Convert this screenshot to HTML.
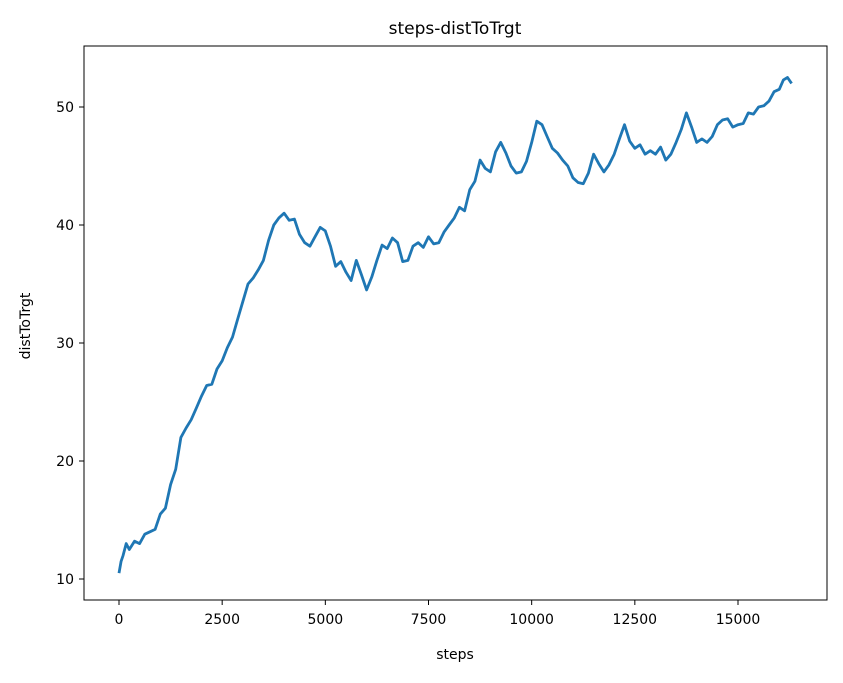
<!DOCTYPE html>
<html><head><meta charset="utf-8"><style>
body{margin:0;background:#fff;font-family:"Liberation Sans","DejaVu Sans",sans-serif;}
svg text{font-family:"DejaVu Sans","Liberation Sans",sans-serif;fill:#000;}
</style></head><body>
<svg id="chart" width="843" height="678">
<text x="455" y="34" font-size="17" text-anchor="middle">steps-distToTrgt</text>
<g id="xticks"></g>
<g id="yticks"></g>
<path id="line" fill="none" stroke="#1f77b4" stroke-width="2.8" stroke-linejoin="round"/>
<rect x="84" y="46" width="743" height="554" fill="none" stroke="#000" stroke-width="1"/>
<text x="455" y="659" font-size="14" text-anchor="middle">steps</text>
<text transform="translate(30,326) rotate(-90)" font-size="14" text-anchor="middle">distToTrgt</text>
</svg>
<script>
const steps=[0,50,100,175,250,375,500,625,750,875,1000,1125,1250,1375,1500,1625,1750,1875,2000,2125,2250,2375,2500,2625,2750,2875,3000,3125,3250,3375,3500,3625,3750,3875,4000,4125,4250,4375,4500,4625,4750,4875,5000,5125,5250,5375,5500,5625,5750,5875,6000,6125,6250,6375,6500,6625,6750,6875,7000,7125,7250,7375,7500,7625,7750,7875,8000,8125,8250,8375,8500,8625,8750,8875,9000,9125,9250,9375,9500,9625,9750,9875,10000,10125,10250,10375,10500,10625,10750,10875,11000,11125,11250,11375,11500,11625,11750,11875,12000,12125,12250,12375,12500,12625,12750,12875,13000,13125,13250,13375,13500,13625,13750,13875,14000,14125,14250,14375,14500,14625,14750,14875,15000,15125,15250,15375,15500,15625,15750,15875,16000,16100,16200,16300];
const dist=[10.5,11.5,12,13,12.5,13.2,13,13.8,14,14.2,15.5,16,18,19.3,22,22.8,23.5,24.5,25.5,26.4,26.5,27.8,28.5,29.6,30.5,32,33.5,35,35.5,36.2,37,38.7,40,40.6,41,40.4,40.5,39.2,38.5,38.2,39,39.8,39.5,38.2,36.5,36.9,36,35.3,37,35.8,34.5,35.6,37,38.3,38,38.9,38.5,36.9,37,38.2,38.5,38.1,39,38.4,38.5,39.4,40,40.6,41.5,41.2,43,43.7,45.5,44.8,44.5,46.2,47,46.1,45,44.4,44.5,45.4,47,48.8,48.5,47.5,46.5,46.1,45.5,45,44,43.6,43.5,44.4,46,45.2,44.5,45.1,46,47.3,48.5,47.1,46.5,46.8,46,46.3,46,46.6,45.5,46,47,48.1,49.5,48.3,47,47.3,47,47.5,48.5,48.9,49,48.3,48.5,48.6,49.5,49.4,50,50.1,50.5,51.3,51.5,52.3,52.5,52];
const xTicks=[0,2500,5000,7500,10000,12500,15000];
const yTicks=[10,20,30,40,50];
const NS="http://www.w3.org/2000/svg";
function xs(v){return 119+v*(738-119)/15000;}
function ys(v){return 579-(v-10)*(579-107)/40;}
let d="";
steps.forEach((s,i)=>{d+=(i?"L":"M")+xs(s).toFixed(1)+","+ys(dist[i]).toFixed(1);});
document.getElementById("line").setAttribute("d",d);
const gx=document.getElementById("xticks");
xTicks.forEach(t=>{
 const l=document.createElementNS(NS,"line");
 
 
 l.setAttribute("x1",xs(t));l.setAttribute("x2",xs(t));l.setAttribute("y1",600);l.setAttribute("y2",605);l.setAttribute("stroke","#000");
 gx.appendChild(l);
 const tx=document.createElementNS(NS,"text");
 
 
 tx.setAttribute("x",xs(t));tx.setAttribute("y",624);tx.setAttribute("font-size","14");tx.setAttribute("text-anchor","middle");
 tx.textContent=t;gx.appendChild(tx);
});
const gy=document.getElementById("yticks");
yTicks.forEach(t=>{
 const l=document.createElementNS(NS,"line");
 
 
 l.setAttribute("x1",79);l.setAttribute("x2",84);l.setAttribute("y1",ys(t));l.setAttribute("y2",ys(t));l.setAttribute("stroke","#000");
 gy.appendChild(l);
 const tx=document.createElementNS(NS,"text");
 
 
 tx.setAttribute("x",74);tx.setAttribute("y",ys(t)+5);tx.setAttribute("font-size","14");tx.setAttribute("text-anchor","end");
 tx.textContent=t;gy.appendChild(tx);
});
</script>
</body></html>
